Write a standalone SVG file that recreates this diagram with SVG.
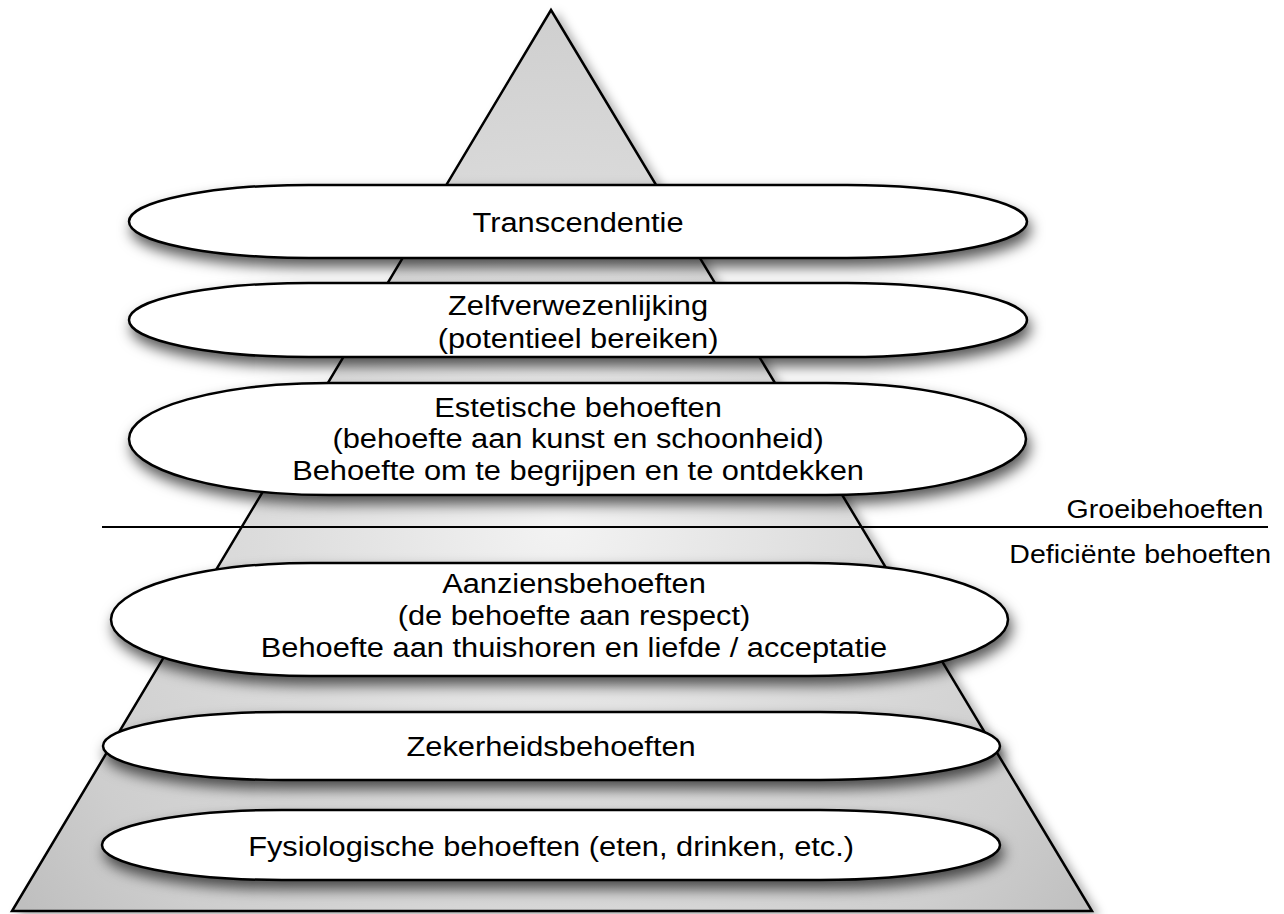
<svg xmlns="http://www.w3.org/2000/svg" width="1284" height="914" viewBox="0 0 1284 914">
<defs>
<radialGradient id="pg" gradientUnits="userSpaceOnUse" cx="560" cy="520" r="660">
<stop offset="0" stop-color="#f3f3f3"/>
<stop offset="0.45" stop-color="#dcdcdc"/>
<stop offset="0.8" stop-color="#cecece"/>
<stop offset="1" stop-color="#bfbfbf"/>
</radialGradient>
<filter id="sh" x="-10%" y="-40%" width="125%" height="200%">
<feDropShadow dx="3" dy="8" stdDeviation="7" flood-color="#000" flood-opacity="0.65"/>
</filter>
<filter id="psh" x="-10%" y="-10%" width="125%" height="125%">
<feDropShadow dx="6" dy="4" stdDeviation="5" flood-color="#000" flood-opacity="0.3"/>
</filter>
</defs>
<style>
.pyr{fill:url(#pg);stroke:#000;stroke-width:2.5;stroke-linejoin:miter}
.el{fill:#fff;stroke:#000;stroke-width:2.5;filter:url(#sh)}
.t{font-family:"Liberation Sans",Arial,sans-serif;font-size:28px;fill:#000;text-anchor:middle}
.side{font-family:"Liberation Sans",Arial,sans-serif;font-size:25.5px;fill:#000;text-anchor:end}
</style>
<g id="pyramid">
<polygon class="pyr" filter="url(#psh)" points="551,10 1092,911 12,911"/>
</g>
<g id="connectors">
<line x1="102" y1="527" x2="1268" y2="527" stroke="#000" stroke-width="1.8"/>
</g>
<g id="transcendentie">
<path class="el" d="M309,185 H847 A180,36.5 0 0 1 847,258 H309 A180,36.5 0 0 1 309,185 Z"/>
<text class="t" transform="scale(1.1 1)" x="525.5" y="232">Transcendentie</text>
</g>
<g id="zelfverwezenlijking">
<path class="el" d="M309,283 H847 A180,37 0 0 1 847,357 H309 A180,37 0 0 1 309,283 Z"/>
<text class="t" transform="scale(1.1 1)" x="525.5" y="315">Zelfverwezenlijking</text>
<text class="t" transform="scale(1.1 1)" x="525.5" y="348">(potentieel bereiken)</text>
</g>
<g id="estetische">
<path class="el" d="M329,383 H826 A200,56 0 0 1 826,495 H329 A200,56 0 0 1 329,383 Z"/>
<text class="t" transform="scale(1.1 1)" x="525.5" y="417">Estetische behoeften</text>
<text class="t" transform="scale(1.1 1)" x="525.5" y="448">(behoefte aan kunst en schoonheid)</text>
<text class="t" transform="scale(1.1 1)" x="525.5" y="480">Behoefte om te begrijpen en te ontdekken</text>
</g>
<g id="groei-label">
<text class="side" transform="scale(1.12 1)" x="1128" y="518">Groeibehoeften</text>
<text class="side" transform="scale(1.12 1)" x="1135" y="563">Deficiënte behoeften</text>
</g>
<g id="aanzien">
<path class="el" d="M311,563 H808 A200,56.5 0 0 1 808,676 H311 A200,56.5 0 0 1 311,563 Z"/>
<text class="t" transform="scale(1.1 1)" x="521.8" y="593">Aanziensbehoeften</text>
<text class="t" transform="scale(1.1 1)" x="521.8" y="625">(de behoefte aan respect)</text>
<text class="t" transform="scale(1.1 1)" x="521.8" y="657">Behoefte aan thuishoren en liefde / acceptatie</text>
</g>
<g id="zekerheid">
<path class="el" d="M283,712 H820 A180,34 0 0 1 820,780 H283 A180,34 0 0 1 283,712 Z"/>
<text class="t" transform="scale(1.1 1)" x="501" y="756">Zekerheidsbehoeften</text>
</g>
<g id="fysiologisch">
<path class="el" d="M282,810 H820 A180,35 0 0 1 820,880 H282 A180,35 0 0 1 282,810 Z"/>
<text class="t" transform="scale(1.1 1)" x="501" y="856">Fysiologische behoeften (eten, drinken, etc.)</text>
</g>
</svg>
